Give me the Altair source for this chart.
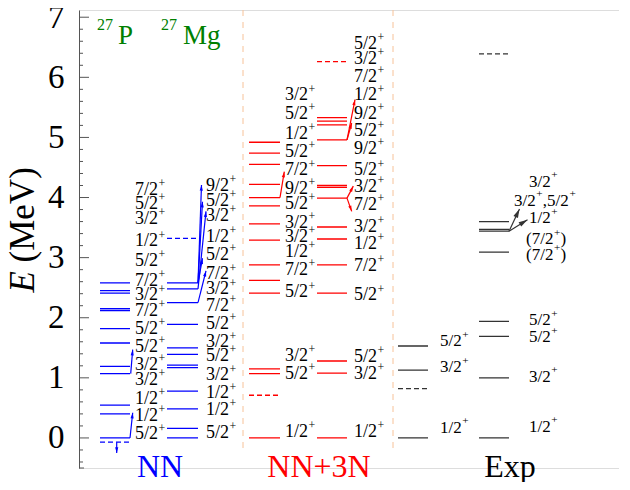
import math
import altair as alt
import pandas as pd

# ---------------- data ----------------
# NN, 27P
nnP_levels = [2.58, 2.45, 2.41, 2.15, 2.12, 1.82, 1.58, 1.19, 1.07, 0.545, 0.40, 0.0]
nnP_dashed = [-0.07]
nnP_label_E = [4.13, 3.89, 3.65, 3.27, 2.95, 2.61, 2.37, 2.12, 1.82, 1.52, 1.22, 0.96, 0.65, 0.36, 0.06]
nnP_labels = ["7/2+", "5/2+", "3/2+", "1/2+", "5/2+", "7/2+", "3/2+", "7/2+", "5/2+", "5/2+",
              "3/2+", "3/2+", "1/2+", "1/2+", "5/2+"]
# NN, 27Mg
nnMg_levels = [2.58, 2.48, 2.25, 1.89, 1.50, 1.39, 1.21, 1.17, 0.78, 0.485, 0.16, 0.0]
nnMg_dashed = [3.32]
nnMg_label_E = [4.20, 3.95, 3.69, 3.35, 3.05, 2.72, 2.47, 2.20, 1.90, 1.59, 1.36, 1.04, 0.74, 0.46, 0.09]
nnMg_labels = ["9/2+", "5/2+", "3/2+", "1/2+", "5/2+", "7/2+", "3/2+", "7/2+", "5/2+", "3/2+",
               "5/2+", "3/2+", "1/2+", "1/2+", "5/2+"]
# NN+3N, 27P
tnP_levels = [4.92, 4.74, 4.55, 4.22, 4.00, 3.86, 3.56, 3.29, 2.88, 2.62, 2.41, 1.15, 1.07, 0.0]
tnP_dashed = [0.71]
tnP_label_E = [5.70, 5.39, 5.06, 4.76, 4.45, 4.14, 3.89, 3.58, 3.34, 3.09, 2.79, 2.42, 1.37, 1.07, 0.10]
tnP_labels = ["3/2+", "5/2+", "1/2+", "5/2+", "7/2+", "9/2+", "5/2+", "3/2+", "3/2+", "1/2+",
              "7/2+", "5/2+", "3/2+", "5/2+", "1/2+"]
# NN+3N, 27Mg
tnMg_levels = [5.33, 5.27, 5.21, 4.96, 4.53, 4.20, 4.17, 3.99, 3.51, 3.31, 2.88, 2.41, 1.28, 1.08, 0.0]
tnMg_dashed = [6.26]
tnMg_label_E = [6.56, 6.31, 6.00, 5.70, 5.39, 5.10, 4.81, 4.45, 4.17, 3.88, 3.51, 3.23, 2.86, 2.37,
                1.35, 1.07, 0.10]
tnMg_labels = ["5/2+", "3/2+", "7/2+", "1/2+", "9/2+", "5/2+", "9/2+", "5/2+", "3/2+", "7/2+",
               "3/2+", "1/2+", "7/2+", "5/2+", "5/2+", "3/2+", "1/2+"]
# Experiment, 27P
exP_levels = [1.53, 1.13, 0.0]
exP_dashed = [0.82]
exP_label_E = [1.61, 1.18, 0.17]
exP_labels = ["5/2+", "3/2+", "1/2+"]
# Experiment, 27Mg
exMg_levels = [3.60, 3.47, 3.44, 3.09, 1.94, 1.69, 1.00, 0.0]
exMg_dashed = [6.39]
exMg_label_E = [4.26, 3.95, 3.66, 3.31, 3.05, 1.96, 1.68, 1.02, 0.19]
exMg_labels = ["3/2+", "3/2+,5/2+", "1/2+", "(7/2+)", "(7/2+)", "5/2+", "5/2+", "3/2+", "1/2+"]
exMg_label_shift = [0, -15, 0, -3, -3, 0, 0, 0, 0]

# arrows: column, start energy, end energy, horizontal start/end offset from the column's right end
arrow_col = ["nnP", "nnP", "nnP", "nnMg", "nnMg", "nnMg", "nnMg", "nnMg",
             "tnP", "tnMg", "tnMg", "tnMg", "tnMg", "exMg", "exMg"]
arrow_E1 = [0.0, 1.07, -0.07, 2.58, 2.58, 2.48, 2.58, 2.25,
            4.00, 4.96, 4.96, 3.99, 3.99, 3.44, 3.44]
arrow_E2 = [0.42, 1.47, -0.25, 4.21, 3.93, 3.77, 2.99, 2.78,
            4.43, 5.63, 5.24, 4.19, 3.77, 3.81, 3.63]
arrow_dx1 = [0, 0.7, -13.3, 0, 0, 0, 0, 0, 0, 0, 0, 0, 0, 0, 0]
arrow_dx2 = [2.7, 2.7, -13.3, 3.5, 4.5, 8, 4.5, 8, 4.3, 8, 4.7, 6.3, 4.7, 10.5, 18.5]

# ---------------- layout / style ----------------
EMIN, EMAX = -0.5, 7.12
W, H = 540, 458
X0 = 79                      # image x of the plot's left edge
PX = H / (EMAX - EMIN)       # pixels per MeV
BLUE, RED, EXPC = "#0000ff", "#ff0000", "#333333"
FONT = "Liberation Serif, Times New Roman, serif"

cols = {  # left end, right end, label x, colour, label font size
    "nnP": (100, 130, 135, BLUE, 18),
    "nnMg": (167, 198, 206, BLUE, 18),
    "tnP": (249, 280, 285, RED, 18),
    "tnMg": (317, 347, 354, RED, 18),
    "exP": (398, 428, 440, EXPC, 17),
    "exMg": (479, 509, 529, EXPC, 17),
}
series = {
    "nnP": (nnP_levels, nnP_dashed, nnP_label_E, nnP_labels, None),
    "nnMg": (nnMg_levels, nnMg_dashed, nnMg_label_E, nnMg_labels, None),
    "tnP": (tnP_levels, tnP_dashed, tnP_label_E, tnP_labels, None),
    "tnMg": (tnMg_levels, tnMg_dashed, tnMg_label_E, tnMg_labels, None),
    "exP": (exP_levels, exP_dashed, exP_label_E, exP_labels, None),
    "exMg": (exMg_levels, exMg_dashed, exMg_label_E, exMg_labels, exMg_label_shift),
}

ADV = {"/": 0.278, "(": 0.333, ")": 0.333, ",": 0.25, "+": 0.564}


def adv(s):
    return sum(ADV.get(c, 0.5) for c in s)


level_rows, text_rows = [], []
for key, (lv, dash, lE, lab, shift) in series.items():
    x1, x2, lx, color, fs = cols[key]
    for e in lv:
        level_rows.append(dict(x=x1, x2=x2, E=e, c=color, d="solid"))
    for e in dash:
        level_rows.append(dict(x=x1, x2=x2, E=e, c=color, d="dashed"))
    for i, (e, s) in enumerate(zip(lE, lab)):
        cx = lx + (shift[i] if shift else 0)
        cur = ""
        for ch in s + "\0":
            if ch in "+\0":
                if cur:
                    text_rows.append(dict(x=cx, E=e, t=cur, fs=fs, c="black"))
                    cx += adv(cur) * fs
                    cur = ""
                if ch == "+":
                    sfs = 0.66 * fs
                    text_rows.append(dict(x=cx + 0.6, E=e + 0.38 * fs / PX, t="+", fs=sfs, c="black"))
                    cx += ADV["+"] * sfs + 0.8
            else:
                cur += ch

levels = pd.DataFrame(level_rows)
texts = pd.DataFrame(text_rows)

arrow_rows = []
for c, e1, e2, d1, d2 in zip(arrow_col, arrow_E1, arrow_E2, arrow_dx1, arrow_dx2):
    right, color = cols[c][1], cols[c][3]
    xa, xb = right + d1, right + d2
    ang = math.degrees(math.atan2(xb - xa, (e2 - e1) * PX)) % 360
    arrow_rows.append(dict(x=xa, x2=xb, E=e1, E2=e2, c=color, ang=ang,
                           s=130 if c != "exMg" else 320))
arrows = pd.DataFrame(arrow_rows)

# axis ticks (drawn inward)
major_vals = list(range(0, 8))
minor_vals = [round(i * 0.2, 1) for i in range(-2, 36) if i % 5 != 0]
ticks = pd.DataFrame(
    [dict(x=X0, x2=X0 + 10, E=v) for v in major_vals] +
    [dict(x=X0, x2=X0 + 4, E=v) for v in minor_vals] +
    [dict(x=X0, x2=X0 + 5, E=EMIN)]
)

separators = pd.DataFrame([dict(x=243, E=EMAX, E2=-0.17), dict(x=393, E=EMAX, E2=-0.17)])

group_labels = pd.DataFrame([
    dict(x=160, E=(438.5 - 467.5) / PX, t="NN", c=BLUE),
    dict(x=319, E=(438.5 - 467.5) / PX, t="NN+3N", c=RED),
    dict(x=510, E=(438.5 - 467.5) / PX, t="Exp", c="black"),
])
nuclei_big = pd.DataFrame([dict(x=118, E=6.69, t="P"), dict(x=183, E=6.69, t="Mg")])
nuclei_small = pd.DataFrame([dict(x=97, E=6.87, t="27"), dict(x=161, E=6.87, t="27")])
title_it = pd.DataFrame([dict(x=23, E=(438.5 - 293) / PX, t="E")])
title_rm = pd.DataFrame([dict(x=23, E=(438.5 - 263) / PX, t="(MeV)")])

xs = alt.Scale(domain=[X0, X0 + W], nice=False, zero=False)
ys = alt.Scale(domain=[EMIN, EMAX], nice=False, zero=False)
yaxis = alt.Axis(values=major_vals, labelFont=FONT, labelFontSize=33, labelColor="black",
                 tickSize=0, domainColor="#555555", domainWidth=1, labelPadding=15,
                 grid=False, title=None, labelFlush=False)
X = alt.X("x:Q", scale=xs, axis=None)
Y = alt.Y("E:Q", scale=ys, axis=yaxis)

lv_layer = alt.Chart(levels).mark_rule(strokeWidth=1.3).encode(
    x=X, x2="x2:Q", y=Y,
    color=alt.Color("c:N", scale=None),
    strokeDash=alt.StrokeDash("d:N", scale=alt.Scale(domain=["solid", "dashed"], range=[[1, 0], [5, 3]]),
                              legend=None),
)
sep_layer = alt.Chart(separators).mark_rule(strokeWidth=1, strokeDash=[6, 6], color="#f7c298").encode(
    x=X, y=Y, y2="E2:Q")
tick_layer = alt.Chart(ticks).mark_rule(strokeWidth=1, color="#555555").encode(x=X, x2="x2:Q", y=Y)
arrow_line = alt.Chart(arrows).mark_rule(strokeWidth=1.2).encode(
    x=X, x2="x2:Q", y=Y, y2="E2:Q", color=alt.Color("c:N", scale=None))
arrow_head = alt.Chart(arrows).mark_point(filled=True, shape="M0,0L-0.28,1L0.28,1Z", opacity=1).encode(
    x=alt.X("x2:Q", scale=xs, axis=None), y=alt.Y("E2:Q", scale=ys, axis=yaxis),
    angle=alt.Angle("ang:Q", scale=None), size=alt.Size("s:Q", scale=None),
    color=alt.Color("c:N", scale=None))
text_layer = alt.Chart(texts).mark_text(font=FONT, align="left", baseline="middle").encode(
    x=X, y=Y, text="t:N", size=alt.Size("fs:Q", scale=None), color=alt.Color("c:N", scale=None))
group_layer = alt.Chart(group_labels).mark_text(font=FONT, fontSize=32, align="center",
                                                baseline="middle").encode(
    x=X, y=Y, text="t:N", color=alt.Color("c:N", scale=None))
nuc_big = alt.Chart(nuclei_big).mark_text(font=FONT, fontSize=27, align="left", baseline="middle",
                                          color="#008000").encode(x=X, y=Y, text="t:N")
nuc_small = alt.Chart(nuclei_small).mark_text(font=FONT, fontSize=16, align="left", baseline="middle",
                                              color="#008000").encode(x=X, y=Y, text="t:N")
title_a = alt.Chart(title_it).mark_text(font=FONT, fontSize=35, align="left", baseline="middle",
                                        angle=270, fontStyle="italic").encode(x=X, y=Y, text="t:N")
title_b = alt.Chart(title_rm).mark_text(font=FONT, fontSize=35, align="left", baseline="middle",
                                        angle=270).encode(x=X, y=Y, text="t:N")

chart = alt.layer(
    sep_layer, tick_layer, lv_layer, arrow_line, arrow_head, text_layer,
    group_layer, nuc_big, nuc_small, title_a, title_b,
).properties(
    width=W, height=H,
    autosize=alt.AutoSizeParams(type="none"),
    padding={"left": 71, "top": 2, "right": 0, "bottom": 14},
).configure_view(stroke=None).configure(background="white")

chart.save("out.html", embed_options={"renderer": "svg", "actions": False})
